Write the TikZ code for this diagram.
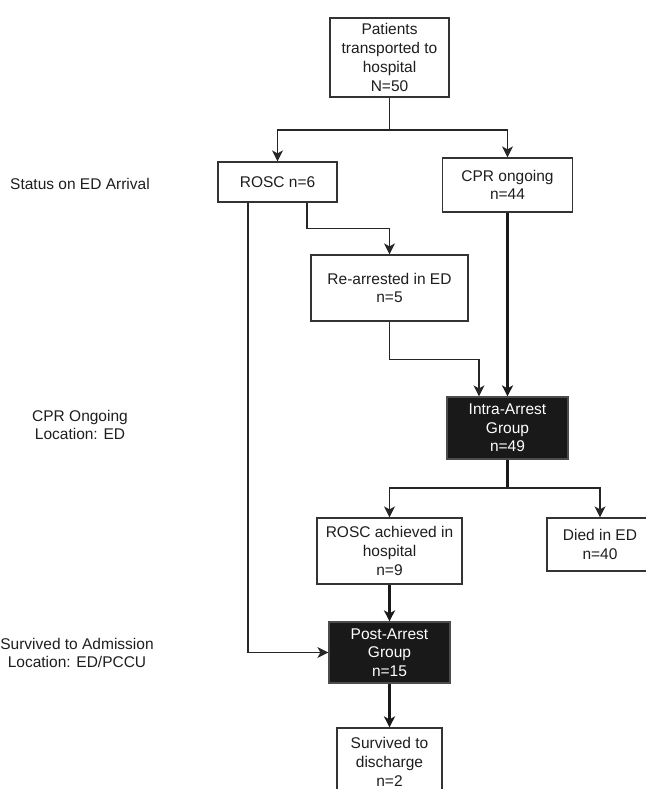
\documentclass[tikz,border=0pt]{standalone}
\usepackage{fontspec}
\setmainfont{Liberation Sans}
\usetikzlibrary{arrows.meta}
\definecolor{txt}{HTML}{1E1E1E}
\definecolor{bord}{HTML}{333333}
\tikzset{
  box/.style={draw=bord, line width=1.2pt, fill=white, inner sep=0pt, align=center,
    text=txt, font=\fontsize{15.5}{18.7}\selectfont},
  dark/.style={box, fill=black!90, text=white, draw=black!70},
  lbl/.style={inner sep=0pt, align=center, text=txt, font=\fontsize{15.5}{18.5}\selectfont},
  thin/.style={draw=black!85, line width=1.3pt},
  thick/.style={draw=black!90, line width=2.1pt},
  arr/.style={-{Stealth[length=11pt,width=11pt,inset=3pt]}},
}
\begin{document}
\begin{tikzpicture}[x=1pt,y=-1pt]
\useasboundingbox (0,0) rectangle (645,789);
% nodes
\node[box, minimum width=119pt, minimum height=79pt] (top) at (389.5,57.5) {Patients\\transported to\\hospital\\N=50};
\node[box, minimum width=119pt, minimum height=40pt] (rosc) at (277.5,182) {ROSC n=6};
\node[box, minimum width=130pt, minimum height=54pt] (cpr) at (507.5,185) {CPR ongoing\\n=44};
\node[box, minimum width=157pt, minimum height=66pt] (rearr) at (389.5,288) {Re-arrested in ED\\n=5};
\node[dark, minimum width=121pt, minimum height=62pt] (intra) at (507.5,428) {Intra-Arrest\\Group\\n=49};
\node[box, minimum width=145pt, minimum height=66pt] (rosca) at (389.5,551) {ROSC achieved in\\hospital\\n=9};
\node[box, minimum width=106pt, minimum height=53pt] (died) at (600,544.5) {Died in ED\\n=40};
\node[dark, minimum width=121pt, minimum height=61pt] (post) at (389.5,652.5) {Post-Arrest\\Group\\n=15};
\node[box, minimum width=105pt, minimum height=68pt] (surv) at (389.5,762) {Survived to\\discharge\\n=2};
% side labels
\node[lbl, anchor=west] (l1) at (10,184) {Status on ED Arrival};
\node[lbl] (l2) at (80,425) {CPR Ongoing\\Location: ED};
\node[lbl] (l3) at (77,653) {Survived to Admission\\Location: ED/PCCU};
% connectors
\coordinate (j1) at (389.5,130);
\draw[thin] (top.south) -- (j1);
\draw[thin, arr] (j1) -| (rosc.north);
\draw[thin, arr] (j1) -| (cpr.north);
\draw[thin, arr] ([xshift=29.5pt]rosc.south) -- ++(0,26) -| (rearr.north);
\draw[thin, arr] ([xshift=-29.5pt]rosc.south) |- (post.west);
\draw[thin, arr] (rearr.south) -- ++(0,38) -| ([xshift=-28.5pt]intra.north);
\draw[thick, arr] (cpr.south) -- (intra.north);
\coordinate (j2) at (507.5,488);
\draw[thick] (intra.south) -- (j2);
\draw[thin, arr] (j2) -| (rosca.north);
\draw[thin, arr] (j2) -| (died.north);
\draw[thick, arr] (rosca.south) -- (post.north);
\draw[thick, arr] (post.south) -- (surv.north);
\end{tikzpicture}
\end{document}
